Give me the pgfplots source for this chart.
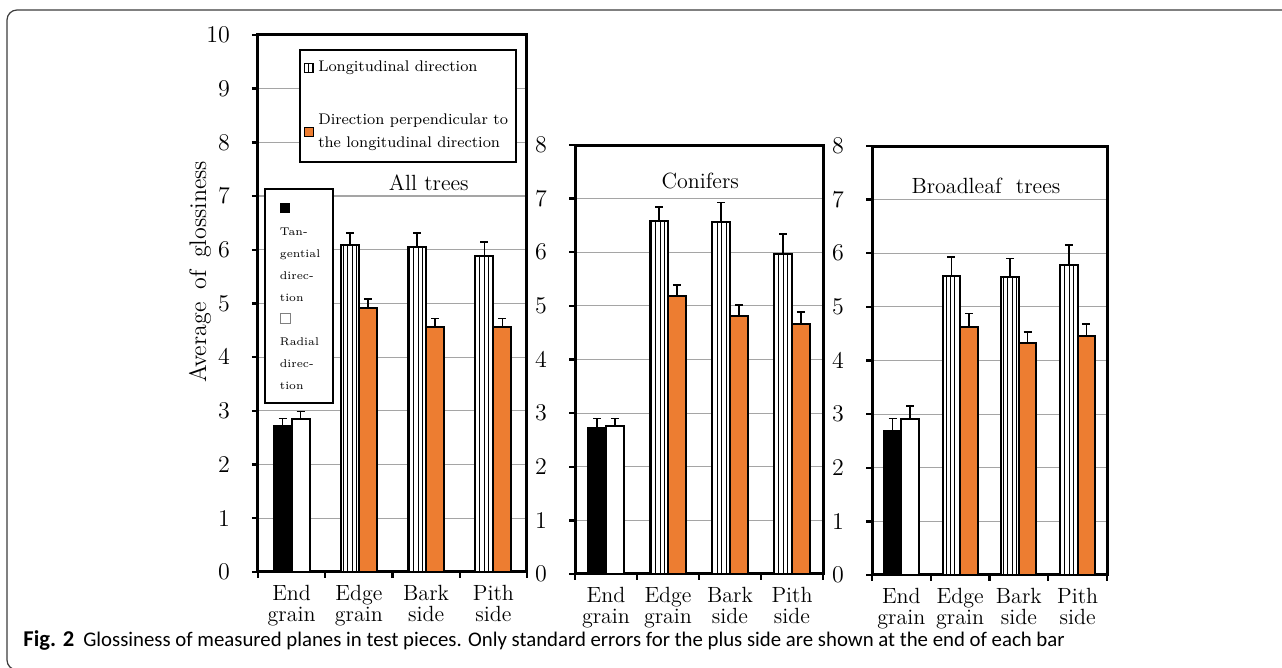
\documentclass[border=0pt]{standalone}
\usepackage{fontspec}
\newfontfamily\capfont{Carlito}
\usepackage{pgfplots}
\pgfplotsset{compat=1.18}
\usetikzlibrary{patterns.meta}
\definecolor{barorange}{RGB}{237,125,49}
\definecolor{gridgray}{RGB}{165,165,165}
\definecolor{framegray}{RGB}{60,60,60}

\pgfplotsset{
  panel/.style={
    scale only axis,
    anchor=south west,
    ymin=0, xmin=-0.5, xmax=3.5,
    xtick={-0.5,0.5,1.5,2.5,3.5},
    x tick label as interval,
    xticklabels={{End\\grain},{Edge\\grain},{Bark\\side},{Pith\\side}},
    xticklabel style={align=center, font=\fontsize{11}{10.5}\selectfont},
    yticklabel style={font=\fontsize{11.5}{13}\selectfont, xshift=-7.5pt},
    tick align=outside,
    major tick length=3pt,
    xtick pos=bottom, ytick pos=left,
    every tick/.style={black, line width=1.2pt},
    axis line style={line width=1.5pt},
    ymajorgrids,
    major grid style={gridgray, line width=0.6pt},
    error bars/y dir=plus,
    error bars/y explicit,
    error bars/error bar style={black, line width=0.8pt},
    error bars/error mark options={black, line width=0.8pt, mark size=2pt, rotate=90},
  },
  blackbar/.style={ybar, bar width=#1, bar shift=0pt, fill=black, draw=black, line width=1pt},
  whitebar/.style={ybar, bar width=#1, bar shift=0pt, fill=white, draw=black, line width=1pt},
  stripebar/.style={ybar, bar width=#1, bar shift=0pt, fill=white, draw=black, line width=1pt,
     postaction={pattern={Lines[angle=90,distance=2.2pt,line width=0.5pt]}}},
  orangebar/.style={ybar, bar width=#1, bar shift=0pt, fill=barorange, draw=black, line width=1pt},
}

\begin{document}
\begin{tikzpicture}
\useasboundingbox (0,0) rectangle (641pt,334pt);
\draw[framegray, line width=0.6pt, rounded corners=5pt] (3.5pt,-1pt) rectangle (660pt,329pt);
\node[anchor=base west, inner sep=0pt] at (11.5pt,10.5pt)
  {\capfont{\fontsize{11.3}{13}\selectfont\textbf{Fig. 2}}\hspace{4.5pt}\fontsize{10.4}{12}\selectfont Glossiness of measured planes in test pieces. Only standard errors for the plus side are shown at the end of each bar};

% ---------------- Panel 1: All trees ----------------
\begin{axis}[panel,
  at={(129pt,48pt)}, width=134.5pt, height=268.5pt,
  ymax=10, ytick={0,1,...,10},
  ylabel={Average\hspace{2.5pt} of\hspace{2.5pt} glossiness},
  ylabel style={at={(axis description cs:-0.2156,0.559)}, anchor=center, font=\fontsize{12}{14}\selectfont},
  legend style={at={(0.152,0.974)}, anchor=north west, draw=black, line width=1pt, fill=white,
     font=\fontsize{7.7}{11.6}\selectfont, cells={align=left}, row sep=15.5pt, inner xsep=2pt, inner ysep=3.5pt},
  legend cell align=left,
  legend image code/.code={\draw[#1, line width=0.6pt] (0pt,-2.3pt) rectangle (4.6pt,2.3pt);},
]
\addplot[blackbar=9pt, forget plot] coordinates {(-0.134,2.72) +- (0,0.14)};
\addplot[whitebar=9pt, forget plot] coordinates {(0.134,2.84) +- (0,0.15)};
\addplot[stripebar=9pt] coordinates {(0.866,6.08) +- (0,0.23) (1.866,6.06) +- (0,0.25) (2.866,5.88) +- (0,0.26)};
\addlegendentry{Longitudinal direction}
\addplot[orangebar=9pt] coordinates {(1.134,4.91) +- (0,0.17) (2.134,4.57) +- (0,0.15) (3.134,4.56) +- (0,0.16)};
\addlegendentry{Direction perpendicular to\\the longitudinal direction}
\node[font=\fontsize{11}{13}\selectfont] at (axis cs:2.04,7.24) {All trees};
\node[anchor=north west, draw=black, line width=1pt, fill=white, align=left,
      font=\fontsize{5.6}{11}\selectfont, inner xsep=7.5pt, inner ysep=7pt, text width=19pt]
  at (axis description cs:0.022,0.715)
  {\rule{5pt}{5pt}\\Tan-\\gential\\direc-\\tion\\{\setlength\fboxsep{0pt}\setlength\fboxrule{0.4pt}\fcolorbox{gray}{white}{\rule{0pt}{4.6pt}\hspace{4.6pt}}}\\Radial\\direc-\\tion};
\end{axis}

% ---------------- Panel 2: Conifers ----------------
\begin{axis}[panel,
  at={(287.5pt,47pt)}, width=124pt, height=214.5pt,
  ymax=8, ytick={0,1,...,8},
]
\addplot[blackbar=9pt] coordinates {(-0.145,2.73) +- (0,0.17)};
\addplot[whitebar=9pt] coordinates {(0.145,2.76) +- (0,0.14)};
\addplot[stripebar=9pt] coordinates {(0.855,6.59) +- (0,0.25) (1.855,6.56) +- (0,0.37) (2.855,5.97) +- (0,0.37)};
\addplot[orangebar=9pt] coordinates {(1.145,5.19) +- (0,0.20) (2.145,4.82) +- (0,0.20) (3.145,4.66) +- (0,0.23)};
\node[font=\fontsize{11}{13}\selectfont] at (axis cs:1.52,7.33) {Conifers};
\end{axis}

% ---------------- Panel 3: Broadleaf trees ----------------
\begin{axis}[panel,
  at={(436pt,46.5pt)}, width=117.5pt, height=214.5pt,
  ymax=8, ytick={0,1,...,8},
]
\addplot[blackbar=8.75pt] coordinates {(-0.149,2.69) +- (0,0.23)};
\addplot[whitebar=8.75pt] coordinates {(0.149,2.90) +- (0,0.25)};
\addplot[stripebar=8.75pt] coordinates {(0.851,5.58) +- (0,0.35) (1.851,5.56) +- (0,0.34) (2.851,5.78) +- (0,0.37)};
\addplot[orangebar=8.75pt] coordinates {(1.149,4.63) +- (0,0.25) (2.149,4.32) +- (0,0.21) (3.149,4.45) +- (0,0.23)};
\node[font=\fontsize{11}{13}\selectfont] at (axis cs:1.44,7.26) {Broadleaf\ \ trees};
\end{axis}
\end{tikzpicture}
\end{document}
